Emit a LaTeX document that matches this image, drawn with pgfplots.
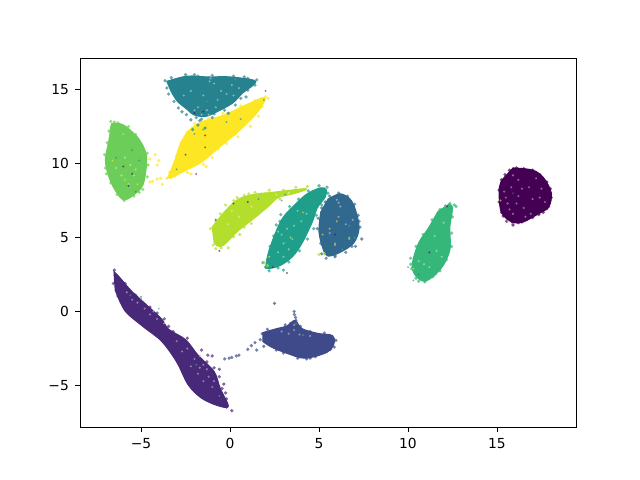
\documentclass[border=0pt]{standalone}
\usepackage{fontspec}
\setmainfont{DejaVu Sans}
\usepackage{pgfplots}
\pgfplotsset{compat=1.18}
\definecolor{c0}{HTML}{440154}
\definecolor{c1}{HTML}{482878}
\definecolor{c2}{HTML}{3E4A89}
\definecolor{c3}{HTML}{31688E}
\definecolor{c4}{HTML}{26828E}
\definecolor{c5}{HTML}{1F9E89}
\definecolor{c6}{HTML}{35B779}
\definecolor{c7}{HTML}{6DCD59}
\definecolor{c8}{HTML}{B4DE2C}
\definecolor{c9}{HTML}{FDE725}
\pgfplotsset{
 body/.style={fill=#1,draw=#1,line width=0.8pt,line join=round,mark=none,smooth,tension=0.55,forget plot},
 pts/.style={only marks,mark=*,mark size=1.3pt,color=#1,mark options={draw opacity=0,fill=#1,fill opacity=.7},forget plot},
 speck/.style={only marks,mark=*,mark size=0.85pt,color=#1,mark options={draw opacity=0,fill=#1!50!white,fill opacity=.8},forget plot},
 stray/.style={only marks,mark=*,mark size=0.8pt,color=#1,mark options={draw opacity=0,fill=#1,fill opacity=.6},forget plot}}

\begin{document}
\begin{tikzpicture}
\useasboundingbox (0,0) rectangle (6.4in,4.8in);
\begin{axis}[at={(0.8in,0.53in)},anchor=south west,scale only axis,
 width=4.96in,height=3.69in,
 xmin=-8.43,xmax=19.44,ymin=-7.8,ymax=17.13,
 xtick={-5,0,5,10,15},xticklabels={−5,0,5,10,15},
 ytick={-5,0,5,10,15},yticklabels={−5,0,5,10,15},
 tick align=outside,tick pos=lower,
 axis line style={line width=0.65pt},
 tick style={line width=0.65pt,black},major tick length=3.5pt,
 tick label style={font=\fontsize{10}{12}\selectfont},
 xticklabel style={yshift=-1pt},yticklabel style={xshift=-1pt}]

% 0, right blob
\addplot[body=c0] coordinates {(15.9,9.7) (17.02,9.55) (17.64,9.0) (18.05,8.0) (17.9,7.06) (17.25,6.55) (16.46,6.05) (15.84,6.05) (15.25,6.7) (15.12,8.0) (15.22,8.75) (15.6,9.3)} --cycle;
\addplot[pts=c0] coordinates {(15.7,9.55) (16.1,9.7) (16.5,9.65) (17.0,9.55) (17.4,9.25) (17.8,8.75) (18.0,8.3) (18.05,7.7) (17.9,7.1) (17.6,6.7) (17.0,6.35) (16.4,6.05) (15.85,6.05) (15.55,6.1) (15.9,5.85) (15.25,6.7) (15.12,7.4) (15.12,8.2) (15.25,8.9) (15.45,9.25) (16.2,6.0) (15.35,6.45) (17.35,6.55) (17.8,6.95) (18.0,8.0)};
\addplot[speck=c0] coordinates {(16.2,8.9) (16.8,8.4) (15.6,7.3) (16.5,7.0) (17.4,7.7) (15.9,6.6) (16.9,6.6) (16.2,7.8) (17.5,8.3) (15.4,8.1) (16.6,6.4) (15.7,6.9) (17.7,7.4) (16.4,8.3) (15.8,8.4) (17.0,7.6) (15.5,7.7) (16.1,7.3) (17.2,9.0) (15.9,9.2)};

% 1, long diagonal
\addplot[body=c1] coordinates {(-6.52,2.7) (-6.2,2.3) (-5.55,1.4) (-4.65,0.4) (-3.85,-0.5) (-3.45,-1.2) (-2.5,-1.9) (-1.8,-2.95) (-0.9,-4.05) (-0.55,-5.2) (-0.1,-6.4) (-0.7,-6.35) (-1.6,-5.85) (-2.35,-4.95) (-3.0,-3.4) (-3.85,-2.0) (-4.9,-1.0) (-5.9,0.05) (-6.45,1.45)} --cycle;
\addplot[pts=c1] coordinates {(-6.5,2.8) (-6.45,2.45) (-6.55,1.9) (-6.3,1.05) (-5.8,0.35) (-5.1,-0.35) (-4.35,-1.05) (-3.7,-1.7) (-3.2,-2.6) (-2.75,-3.4) (-2.4,-4.2) (-2.0,-5.1) (-1.4,-5.8) (-0.8,-6.2) (-0.2,-6.45) (0.1,-6.7) (-0.2,-5.9) (-0.45,-5.2) (-0.6,-4.4) (-0.9,-3.8) (-1.3,-3.4) (-1.6,-2.6) (-2.4,-1.8) (-3.2,-1.35) (-3.7,-0.5) (-4.5,0.3) (-5.3,1.1) (-5.9,1.9) (-1.25,-2.95) (-0.6,-3.9) (-0.25,-5.5) (-0.35,-4.9) (-1.0,-3.0) (-0.3,-6.1) (-3.45,-1.0) (-4.1,-0.1)};
\addplot[speck=c1] coordinates {(-5.8,1.3) (-5.2,0.6) (-4.8,0.2) (-4.5,-0.2) (-4.1,-0.5) (-5.5,0.8) (-3.0,-2.0) (-2.4,-2.5) (-2.0,-3.2) (-1.5,-3.6) (-1.2,-4.4) (-1.5,-4.7) (-1.0,-5.1) (-2.2,-3.7) (-0.9,-4.7) (-1.7,-3.0) (-4.3,0.0) (-5.0,0.9) (-2.7,-2.7) (-1.3,-3.9) (-1.8,-4.2)};

% 2, lower blob with spike and trail
\addplot[body=c2] coordinates {(1.85,-1.42) (2.64,-1.15) (3.2,-0.98) (3.65,-0.6) (4.04,-1.15) (4.94,-1.48) (5.75,-1.62) (5.85,-2.13) (5.45,-2.75) (4.21,-3.15) (3.2,-2.82) (2.36,-2.42) (1.85,-2.03)} --cycle;
\addplot[pts=c2] coordinates {(3.6,0.0) (3.62,-0.2) (3.68,-0.4) (3.7,-0.6) (2.5,0.55) (1.8,-1.5) (1.7,-1.9) (1.9,-2.35) (1.4,-2.1) (1.2,-2.3) (1.0,-2.55) (1.5,-2.6) (0.5,-2.95) (0.35,-3.0) (0.1,-3.1) (-0.3,-3.2) (-0.05,-3.15) (5.3,-1.45) (5.95,-1.95) (5.85,-2.4) (4.8,-3.05) (3.8,-3.15) (3.0,-2.8) (2.6,-2.6) (2.1,-1.2) (3.1,-0.9) (3.4,-0.8) (3.95,-1.0) (4.5,-1.35) (5.65,-2.55) (4.3,-3.2) (4.5,-3.15)};
\addplot[speck=c2] coordinates {(2.9,-1.35) (3.6,-1.25) (3.9,-1.55) (4.5,-1.65) (3.3,-1.5)};

% 3, right of centre
\addplot[body=c3] coordinates {(5.51,7.6) (6.18,7.95) (6.74,7.6) (7.05,6.86) (7.25,5.64) (6.95,4.63) (6.18,4.0) (5.51,3.75) (5.25,4.16) (5.0,5.37) (5.1,6.72)} --cycle;
\addplot[pts=c3] coordinates {(5.6,7.8) (6.1,8.0) (6.6,7.8) (7.0,7.25) (7.2,6.5) (7.3,5.7) (7.4,4.9) (7.05,4.4) (6.5,4.0) (5.9,3.8) (5.4,3.6) (5.15,3.9) (5.1,4.6) (4.9,5.6) (4.95,6.3) (5.15,7.0) (5.9,3.7) (6.85,4.4) (7.25,6.1) (5.35,7.4)};
\addplot[speck=c3] coordinates {(6.1,7.35) (6.2,7.1) (6.0,7.55) (6.5,5.9) (5.9,4.6) (6.7,5.0) (6.1,6.4) (5.6,5.3) (6.9,6.2)};

% 4, top band
\addplot[body=c4] coordinates {(-3.55,15.55) (-2.42,15.9) (-1.29,15.85) (0,15.85) (1.35,15.62) (1.3,15.3) (0.7,14.76) (0.15,14.09) (-0.73,13.5) (-1.4,13.18) (-2.05,13.3) (-2.4,13.65) (-2.95,14.2) (-3.3,14.85)} --cycle;
\addplot[pts=c4] coordinates {(-3.65,15.6) (-3.3,15.8) (-2.5,16.0) (-1.8,15.9) (-1,15.95) (0.2,15.9) (1.0,15.75) (1.5,15.65) (1.4,15.3) (1.0,14.95) (0.6,14.4) (0.3,13.95) (-0.3,13.6) (-0.9,13.35) (-1.6,13.0) (-1.8,12.6) (-2.2,12.95) (-2.45,13.3) (-2.9,13.75) (-3.15,14.2) (-3.45,14.7) (-3.55,15.1) (-1.0,13.1) (-2.1,12.3) (-1.4,12.4) (0.9,14.5) (-0.1,13.4) (-2.7,13.5) (-3.3,15.3) (-2.0,16.0) (0.8,15.85) (-1.7,12.9) (-1.9,13.1)};
\addplot[speck=c4] coordinates {(-1.1,15.75) (-1.05,15.9) (-1.15,15.55) (-0.5,14.9) (-0.2,14.7) (0.2,14.6) (-1.8,13.8) (-2.0,13.6) (-1.3,13.6) (-0.8,13.8) (-2.6,14.6) (-1.5,14.6) (0.5,15.1) (-0.7,14.3) (-2.2,14.9) (-1.6,13.3) (-1.2,13.3)};

% 5, teal arc
\addplot[body=c5] coordinates {(2.0,2.95) (2.15,3.95) (2.55,5.3) (3.0,6.39) (3.76,7.35) (4.33,7.95) (5.06,8.35) (5.4,8.25) (5.35,7.74) (4.9,7.0) (4.62,6.05) (4.05,4.63) (3.5,3.7) (2.8,3.1) (2.15,2.9)} --cycle;
\addplot[pts=c5] coordinates {(2.0,3.0) (2.1,3.5) (2.25,4.4) (2.45,5.1) (2.6,5.85) (2.85,6.55) (3.35,7.1) (3.85,7.6) (4.4,8.15) (5.0,8.5) (5.45,8.4) (5.5,8.0) (5.15,7.2) (4.85,6.5) (4.7,5.6) (4.35,4.9) (3.9,4.1) (3.3,3.35) (2.7,2.95) (2.2,2.75) (1.85,3.3) (2.8,6.1) (3.0,2.8) (4.65,7.85) (3.55,4.0)};
\addplot[speck=c5] coordinates {(3.0,4.6) (2.9,5.2) (3.2,5.6) (3.5,4.9) (3.3,4.2) (3.6,5.8) (4.0,6.1) (2.7,4.0) (3.8,6.8) (3.0,3.7) (2.7,5.4) (4.3,6.6)};

% 6, green drop
\addplot[body=c6] coordinates {(12.3,7.25) (12.5,7.0) (12.35,5.71) (12.35,4.16) (11.85,2.9) (10.96,2.05) (10.35,2.55) (10.25,3.28) (10.6,4.63) (11.15,5.64) (11.68,6.75)} --cycle;
\addplot[pts=c6] coordinates {(12.35,7.3) (12.6,7.2) (12.7,7.1) (12.5,6.4) (12.45,5.3) (12.45,4.4) (12.15,3.5) (11.8,2.75) (11.4,2.35) (10.95,2.0) (10.45,2.25) (10.2,2.9) (10.15,3.6) (10.45,4.4) (10.85,5.2) (11.35,6.2) (11.8,6.9) (12.1,7.15) (10.6,2.05) (11.55,2.55) (10.15,3.2)};
\addplot[speck=c6] coordinates {(10.9,3.2) (11.2,3.0) (10.6,3.4) (11.6,4.1) (11.9,3.7) (11.5,5.1) (12.0,6.0)};

% 7, light green oval
\addplot[body=c7] coordinates {(-6.65,12.7) (-6.07,12.65) (-5.51,12.15) (-5.06,11.55) (-4.7,10.57) (-4.75,9.36) (-5.0,8.34) (-5.9,7.55) (-6.4,8.1) (-6.8,9.08) (-7.0,10.24) (-6.8,11.59) (-6.7,12.47)} --cycle;
\addplot[pts=c7] coordinates {(-6.7,12.85) (-6.3,12.75) (-5.7,12.5) (-5.3,11.95) (-4.95,11.25) (-4.65,10.7) (-4.6,9.9) (-4.65,9.1) (-4.9,8.25) (-5.4,7.8) (-5.95,7.5) (-6.35,7.9) (-6.7,8.7) (-7.0,9.7) (-7.05,10.6) (-6.9,11.4) (-6.8,12.2) (-5.85,7.65) (-5.1,8.05) (-6.95,9.3) (-6.5,12.8)};
\addplot[speck=c7] coordinates {(-5.6,9.9) (-5.3,9.6) (-5.9,10.4) (-6.1,9.2) (-5.4,9.2) (-6.4,9.7) (-5.7,8.6)};

% 8, lime arc with tail
\addplot[body=c8] coordinates {(-1.0,5.71) (-0.15,6.95) (0.56,7.65) (1.52,7.95) (2.36,8.05) (3.76,8.25) (4.25,8.3) (4.2,8.2) (3.54,7.95) (2.7,7.7) (2.15,7.1) (1.35,6.3) (0.45,5.45) (-0.35,4.5) (-0.75,4.45) (-0.9,4.7)} --cycle;
\addplot[pts=c8] coordinates {(-1.1,5.6) (-0.8,6.1) (-0.55,6.6) (-0.25,7.2) (0.2,7.5) (0.8,7.85) (1.4,8.05) (2.2,8.2) (3.0,8.2) (3.7,8.4) (4.35,8.45) (2.8,7.6) (2.1,7.3) (1.5,6.55) (0.8,5.7) (0.2,5.05) (-0.3,4.7) (-0.5,4.3) (-0.8,4.25) (-0.95,4.5) (-0.1,4.3) (1.95,3.3) (2.1,3.1) (5.0,3.85) (5.3,3.9) (0.4,7.7) (1.05,7.95) (0.55,5.2) (1.2,5.95) (1.8,7.65)};
\addplot[speck=c8] coordinates {(-0.1,5.9) (0.5,6.4) (1.2,7.1) (0.1,6.8) (2.6,7.9) (3.3,8.0)};

% 9, yellow diagonal
\addplot[body=c9] coordinates {(-3.5,9.05) (-3.15,10.03) (-2.8,11.3) (-2.3,12.25) (-1.52,12.85) (-0.39,13.25) (0.96,14.0) (1.85,14.45) (1.95,14.25) (1.5,13.4) (0.5,12.2) (-0.5,11.2) (-1.6,10.1) (-2.64,9.45) (-3.35,9.0)} --cycle;
\addplot[pts=c9] coordinates {(-3.55,9.0) (-3.4,9.4) (-3.2,9.85) (-3.0,10.5) (-2.75,11.4) (-2.4,12.1) (-2.0,12.7) (-1.2,13.05) (-0.4,13.4) (0.6,13.9) (1.4,14.25) (2.0,14.5) (2.15,14.4) (1.8,13.85) (1.1,13.05) (0.3,12.0) (-0.65,11.0) (-1.5,9.95) (-2.4,9.4) (-3.1,9.15) (-4.5,10.3) (-4.2,10.6) (-4.1,9.9) (-4.35,8.8) (-4.1,8.95) (-3.9,9.0) (-4.0,10.2) (-1.35,9.8) (0.45,11.8) (1.15,12.5) (-3.8,8.6) (-4.5,8.75) (-2.2,9.3) (-0.2,11.35) (-1.0,10.4) (1.6,13.2)};

% strays from other classes
\addplot[stray=c9] coordinates {(-6.0,12.0) (-5.9,8.9) (-5.2,8.6) (-6.6,10.2) (0.1,15.3) (-0.9,15.4) (6.0,6.1) (5.6,5.6) (5.2,5.2) (6.7,4.9) (5.9,4.5) (3.4,5.0) (4.1,6.7) (2.2,3.7) (15.6,6.1) (15.2,7.5) (10.3,2.9) (3.6,-0.9) (-3.7,-0.8) (-1.7,-3.8)};
\addplot[stray=c0] coordinates {(-5.5,9.3) (-5.7,8.5) (-6.0,9.8) (-1.9,9.3) (-1.4,11.1) (-1.4,11.9) (-2.5,10.6) (-1.5,13.5) (-2.0,13.4) (2.0,14.9) (0.2,7.3) (-0.8,6.2) (1.0,7.4) (-0.6,4.1) (3.2,2.6) (2.4,3.0) (12.2,7.1) (11.2,4.0) (16.7,8.2) (17.0,7.2) (5.9,5.2)};
\addplot[stray=c4] coordinates {(-5.1,10.2) (-5.3,8.1) (-5.5,10.9) (-6.4,10.4) (-2.0,12.0) (-1.5,12.3) (-3.0,9.6) (-0.2,12.8) (0.6,13.0) (1.9,14.3) (10.0,3.0) (10.3,2.1) (10.6,2.5) (15.9,8.0) (-5.0,1.0) (2.9,7.5) (1.6,7.6) (3.1,7.9)};
\addplot[stray=c6] coordinates {(-4.0,0.2) (-5.6,1.1) (-1.9,-3.6) (-0.6,-5.7) (4.1,-1.6) (3.7,-0.8) (0.3,15.7) (-1.3,14.2) (6.7,5.8) (7.0,5.0) (6.3,4.2) (3.1,4.7)};
\end{axis}
\end{tikzpicture}
\end{document}
